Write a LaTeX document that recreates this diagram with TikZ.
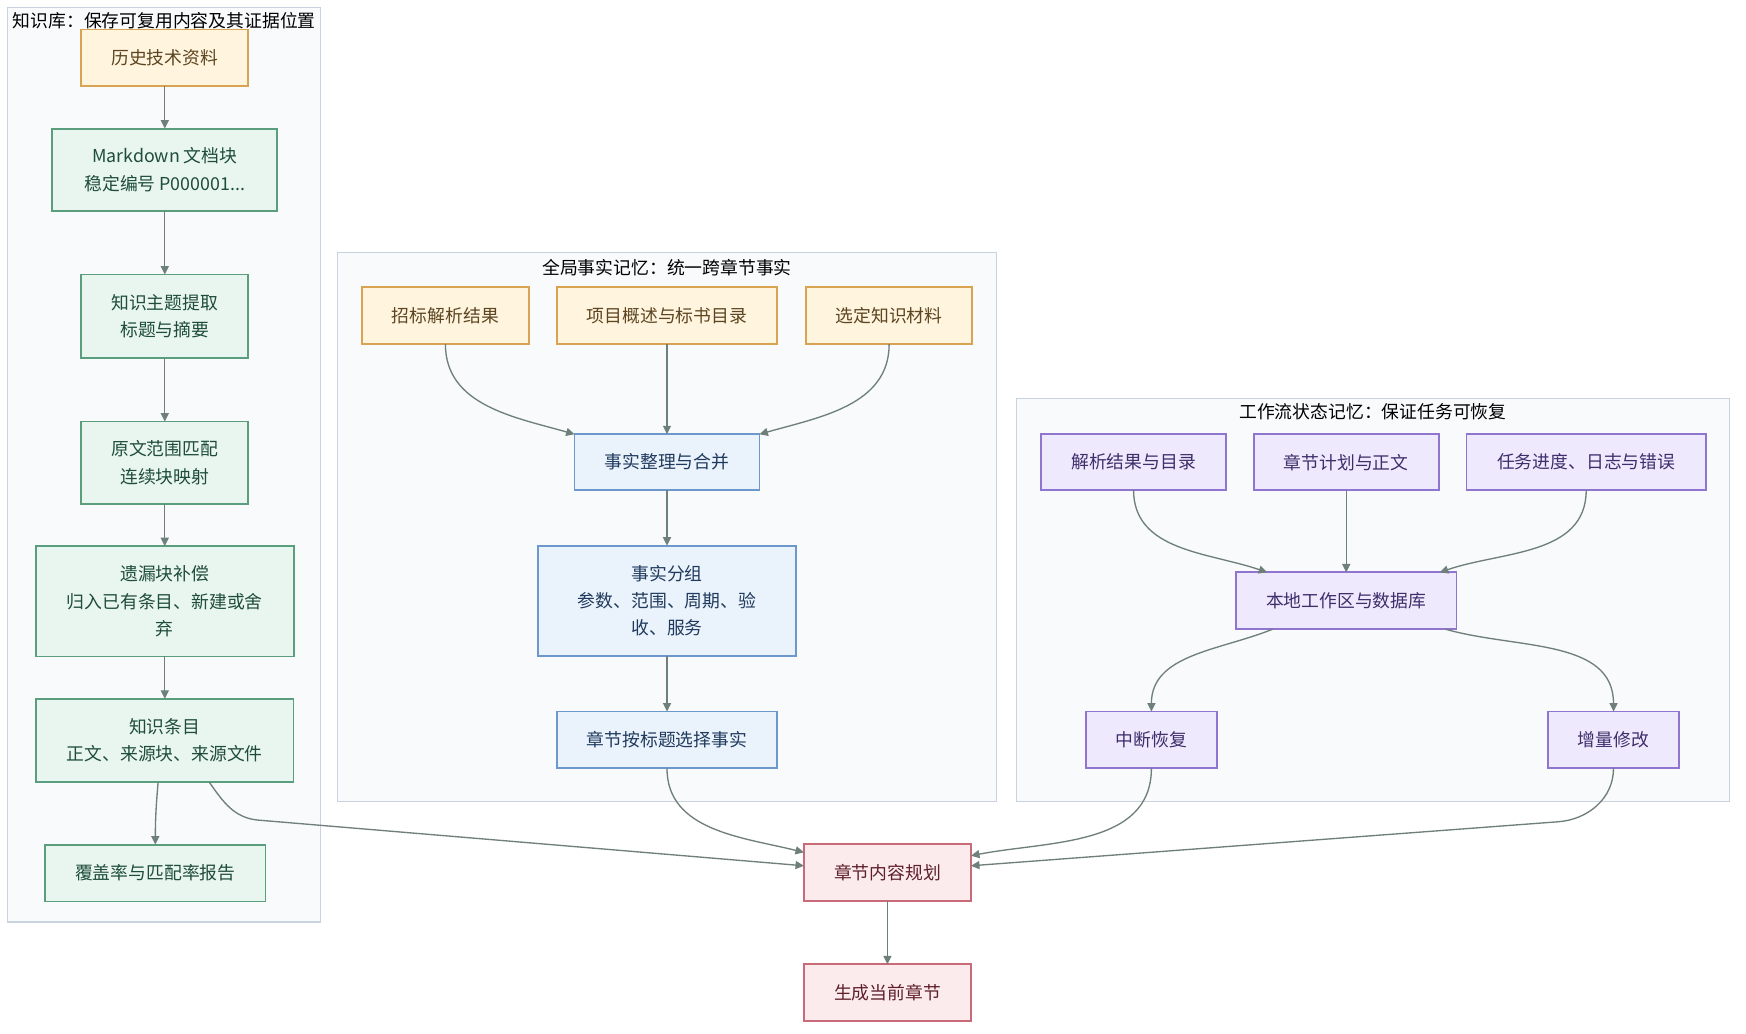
\documentclass[tikz,border=0pt]{standalone}
\usepackage{fontspec}
\setmainfont{Noto Sans CJK SC}
\usepackage{tikz}
\usetikzlibrary{arrows.meta,positioning}
\definecolor{SrcOrange}{HTML}{D9A452}
\definecolor{SrcLight}{HTML}{FFF4DD}
\definecolor{SrcText}{HTML}{5C4520}
\definecolor{KbGreen}{HTML}{5B9E7E}
\definecolor{KbLight}{HTML}{E9F5EF}
\definecolor{KbText}{HTML}{1E4D3B}
\definecolor{FactBlue}{HTML}{6C98CC}
\definecolor{FactLight}{HTML}{EAF2FC}
\definecolor{FactText}{HTML}{1F3A5C}
\definecolor{FlowPurple}{HTML}{8F75CF}
\definecolor{FlowLight}{HTML}{EFE9FD}
\definecolor{FlowText}{HTML}{3E2E6B}
\definecolor{OutRed}{HTML}{C96A78}
\definecolor{OutLight}{HTML}{FCEBEC}
\definecolor{OutText}{HTML}{5E1F2A}
\definecolor{ClusterEdge}{HTML}{C9D3E0}
\definecolor{ClusterFill}{HTML}{F8FAFC}
\definecolor{EdgeGray}{HTML}{6F7F79}

\begin{document}
\begin{tikzpicture}[
    x=1pt, y=1pt,
    font=\fontsize{8}{12.25}\selectfont,
    box/.style={draw, line width=0.8pt, align=center, inner sep=2pt,
      outer sep=0pt, minimum height=25.5pt},
    srcbox/.style={box, draw=SrcOrange, fill=SrcLight, text=SrcText},
    kbox/.style={box, draw=KbGreen, fill=KbLight, text=KbText},
    factbox/.style={box, draw=FactBlue, fill=FactLight, text=FactText},
    flowbox/.style={box, draw=FlowPurple, fill=FlowLight, text=FlowText},
    outbox/.style={box, draw=OutRed, fill=OutLight, text=OutText},
    cluster/.style={draw=ClusterEdge, fill=ClusterFill, line width=0.6pt},
    ctitle/.style={inner sep=0pt, text=black},
    arr/.style={-{Triangle[length=3.8pt,width=3.6pt]}, line width=0.6pt, color=EdgeGray},
    node distance=19pt
  ]
    \useasboundingbox[fill=white] (0,0) rectangle (784,-464);

    % clusters
    \draw[cluster] (3.5,-3.5) rectangle (144,-414);
    \draw[cluster] (151.5,-113.5) rectangle (447.5,-360);
    \draw[cluster] (456.5,-179) rectangle (776.5,-360);
    \node[ctitle] (ktitle) at (73.75,-9.5) {知识库：保存可复用内容及其证据位置};
    \node[ctitle] (gtitle) at (299.5,-120) {全局事实记忆：统一跨章节事实};
    \node[ctitle] (wtitle) at (616.5,-185) {工作流状态记忆：保证任务可恢复};

    % knowledge base
    \node[srcbox, minimum width=75pt] (hist) at (74,-26) {历史技术资料};
    \node[kbox, below=of hist, minimum width=101pt, minimum height=37pt] (md) {Markdown 文档块\\稳定编号 P000001...};
    \node[kbox, below=28.5pt of md, minimum width=75pt, minimum height=37.5pt] (topic) {知识主题提取\\标题与摘要};
    \node[kbox, below=28.5pt of topic, minimum width=75pt, minimum height=37pt] (match) {原文范围匹配\\连续块映射};
    \node[kbox, below=of match, minimum width=116pt, minimum height=49.5pt] (miss) {遗漏块补偿\\归入已有条目、新建或舍\\弃};
    \node[kbox, below=of miss, minimum width=115.5pt, minimum height=37.5pt] (item) {知识条目\\正文、来源块、来源文件};
    \node[kbox, below=28pt of item, xshift=-4.25pt, minimum width=99pt] (cover) {覆盖率与匹配率报告};

    % global facts
    \node[srcbox, minimum width=75pt] (bid) at (200,-141.75) {招标解析结果};
    \node[srcbox, minimum width=99pt] (proj) at (299.5,-141.75) {项目概述与标书目录};
    \node[srcbox, minimum width=74.5pt] (sel) at (399.25,-141.75) {选定知识材料};
    \node[factbox, below=40.5pt of proj, minimum width=83pt, minimum height=25pt] (merge) {事实整理与合并};
    \node[factbox, below=25pt of merge, minimum width=116pt, minimum height=49.5pt] (group) {事实分组\\参数、范围、周期、验\\收、服务};
    \node[factbox, below=25pt of group, minimum width=99pt] (pick) {章节按标题选择事实};

    % workflow state
    \node[flowbox, minimum width=83pt, minimum height=25pt] (parse) at (509,-207.5) {解析结果与目录};
    \node[flowbox, minimum width=83pt, minimum height=25pt] (plan) at (604.5,-207.5) {章节计划与正文};
    \node[flowbox, minimum width=107.5pt, minimum height=25pt] (task) at (712.25,-207.5) {任务进度、日志与错误};
    \node[flowbox, below=37pt of plan, minimum width=99pt] (local) {本地工作区与数据库};
    \node[flowbox, minimum width=59pt] (resume) at (517,-332.25) {中断恢复};
    \node[flowbox, minimum width=59pt] (incr) at (724.5,-332.25) {增量修改};

    % output
    \node[outbox, minimum width=75pt] (plan2) at (398.5,-391.75) {章节内容规划};
    \node[outbox, below=28.5pt of plan2, minimum width=75pt] (gen) {生成当前章节};

    \draw[arr] (hist) -- (md);
    \draw[arr] (md) -- (topic);
    \draw[arr] (topic) -- (match);
    \draw[arr] (match) -- (miss);
    \draw[arr] (miss) -- (item);
    \draw[arr] ([xshift=-3pt]item.south) to[out=-95,in=90] (cover.north);
    \draw[arr] ([xshift=20pt]item.south) to[out=-55,in=175] ++(22,-17) -- ([yshift=3pt]plan2.west);

    \draw[arr] (bid.south) to[out=-90,in=164] (merge.north west);
    \draw[arr] (proj) -- (merge);
    \draw[arr] (sel.south) to[out=-90,in=16] (merge.north east);
    \draw[arr] (merge) -- (group);
    \draw[arr] (group) -- (pick);
    \draw[arr] (pick.south) to[out=-90,in=166] ([yshift=9pt]plan2.west);

    \draw[arr] (parse.south) to[out=-90,in=161] ([xshift=14pt]local.north west);
    \draw[arr] (plan) -- (local);
    \draw[arr] (task.south) to[out=-90,in=19] ([xshift=-7.5pt]local.north east);
    \draw[arr] ([xshift=16.5pt]local.south west) to[out=-158,in=90] (resume.north);
    \draw[arr] ([xshift=-5pt]local.south east) to[out=-16,in=90] (incr.north);
    \draw[arr] (resume.south) to[out=-90,in=11] ([yshift=7.5pt]plan2.east);
    \draw[arr] (incr.south) to[out=-90,in=4] ++(-25,-24) -- ([yshift=3pt]plan2.east);

    \draw[arr] (plan2) -- (gen);
  \end{tikzpicture}
\end{document}
